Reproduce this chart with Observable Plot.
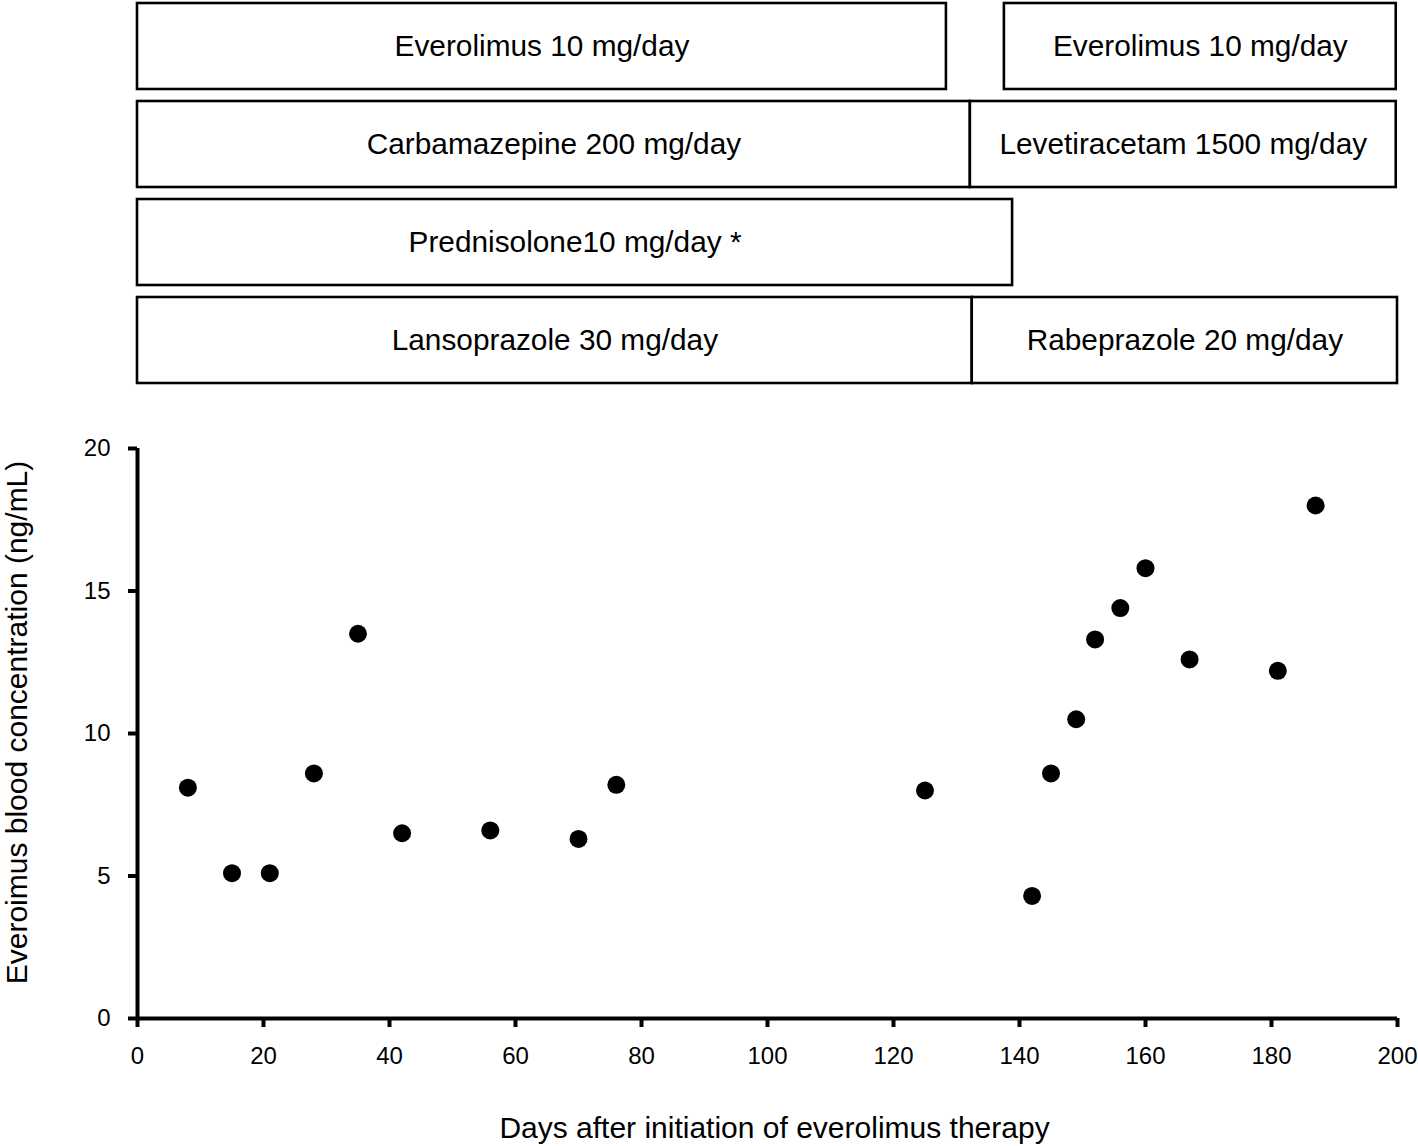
<!DOCTYPE html>
<html>
<head>
<meta charset="utf-8">
<script src="https://cdn.jsdelivr.net/npm/d3@7"></script>
<script src="https://cdn.jsdelivr.net/npm/@observablehq/plot@0.6"></script>
<style>
  html, body { margin: 0; padding: 0; background: #fff; }
  #chart svg { display: block; }
</style>
</head>
<body>
<div id="chart"></div>
<script>
// ---- data ----
const days = [8, 15, 21, 28, 35, 42, 56, 70, 76, 125, 142, 145, 149, 152, 156, 160, 167, 181, 187];
const concentration = [8.1, 5.1, 5.1, 8.6, 13.5, 6.5, 6.6, 6.3, 8.2, 8.0, 4.3, 8.6, 10.5, 13.3, 14.4, 15.8, 12.6, 12.2, 18.0];

const rowNames = ["everolimus", "anticonvulsant", "steroid", "ppi"];
const treatmentLabels = [
  "Everolimus 10 mg/day", "Everolimus 10 mg/day",
  "Carbamazepine 200 mg/day", "Levetiracetam 1500 mg/day",
  "Prednisolone10 mg/day *",
  "Lansoprazole 30 mg/day", "Rabeprazole 20 mg/day"
];
const treatmentRow = ["everolimus", "everolimus", "anticonvulsant", "anticonvulsant", "steroid", "ppi", "ppi"];
const treatmentStart = [0, 137.6, 0, 132.2, 0, 0, 132.5];
const treatmentEnd = [128.4, 199.8, 132.2, 199.8, 138.9, 132.5, 200];

const xTicks = [0, 20, 40, 60, 80, 100, 120, 140, 160, 180, 200];
const yTicks = [0, 5, 10, 15, 20];
const xTitle = "Days after initiation of everolimus therapy";
const yTitle = "Everoimus blood concentration (ng/mL)";

const points = days.map((d, i) => ({day: d, conc: concentration[i]}));
const treatments = treatmentLabels.map((t, i) => ({
  label: t, row: treatmentRow[i], start: treatmentStart[i], end: treatmentEnd[i]
}));

const font = "'Liberation Sans', Arial, Helvetica, sans-serif";
const W = 1418;
const mLeft = 137, mRight = 21;

// ---- treatment boxes ----
const boxesPlot = Plot.plot({
  width: W,
  height: 390,
  marginLeft: mLeft,
  marginRight: mRight,
  marginTop: 2,
  marginBottom: 7,
  style: {fontFamily: font, background: "white"},
  x: {domain: [0, 200], axis: null},
  y: {domain: rowNames, axis: null, paddingInner: 0.125, paddingOuter: 0},
  marks: [
    Plot.barX(treatments, {x1: "start", x2: "end", y: "row", fill: "white", stroke: "black", strokeWidth: 2.6}),
    Plot.text(treatments, {x: d => (d.start + d.end) / 2, y: "row", text: "label", fontSize: 29.8, fill: "black"})
  ]
});

// ---- scatter ----
const scatterPlot = Plot.plot({
  width: W,
  height: 756,
  marginLeft: mLeft,
  marginRight: mRight,
  marginTop: 58,
  marginBottom: 128,
  style: {fontFamily: font, background: "white", color: "black"},
  x: {domain: [0, 200]},
  y: {domain: [0, 20]},
  marks: [
    Plot.axisX({ticks: xTicks, tickSize: 9, tickPadding: 19, strokeWidth: 4, fontSize: 24, label: null}),
    Plot.axisY({ticks: yTicks, tickSize: 9, tickPadding: 18, strokeWidth: 4, fontSize: 24, label: null}),
    Plot.ruleY([0], {strokeWidth: 4}),
    Plot.ruleX([0], {strokeWidth: 4}),
    Plot.dot(points, {x: "day", y: "conc", r: 9, fill: "black", stroke: "none"}),
    Plot.text([xTitle], {frameAnchor: "bottom", textAnchor: "middle", text: d => d, fontSize: 30, dx: 7, dy: 110, lineAnchor: "middle", fill: "black"}),
    Plot.text([yTitle], {frameAnchor: "left", textAnchor: "middle", text: d => d, fontSize: 30, rotate: -90, dx: -120, dy: -11, lineAnchor: "middle", fill: "black"})
  ]
});

const chart = document.getElementById("chart");
chart.appendChild(boxesPlot);
chart.appendChild(scatterPlot);
</script>
</body>
</html>
